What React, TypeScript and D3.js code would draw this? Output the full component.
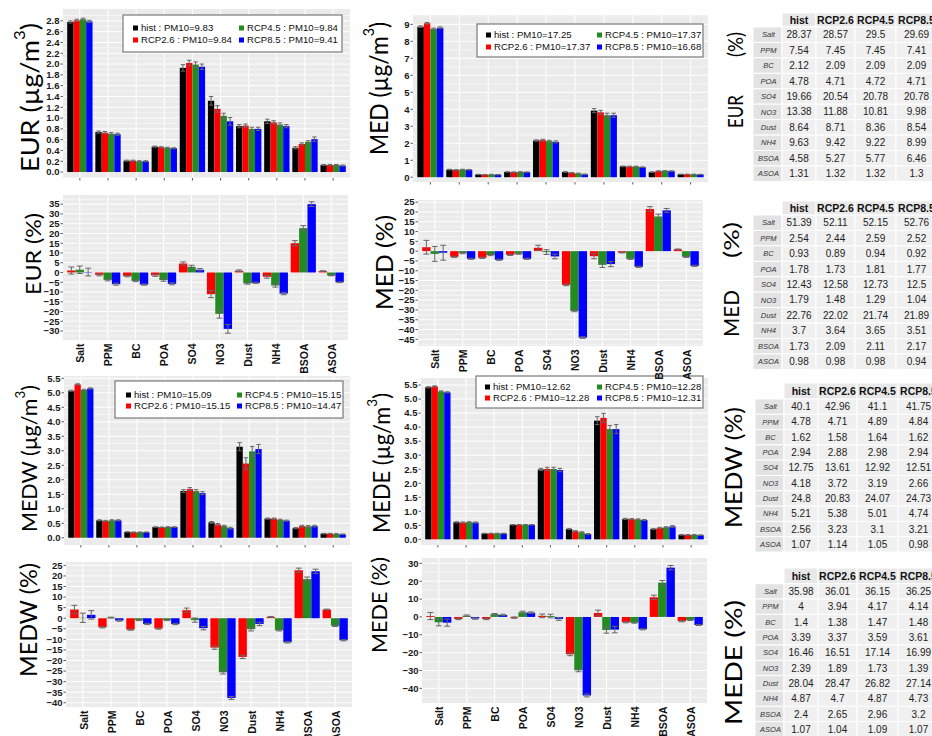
import React from 'react';
import * as d3 from 'd3';

const categories = ['Salt', 'PPM', 'BC', 'POA', 'SO4', 'NO3', 'Dust', 'NH4', 'BSOA', 'ASOA'];
const scenarios = ['hist', 'RCP2.6', 'RCP4.5', 'RCP8.5'];
const colors = ['#000000', '#ff0000', '#228b22', '#0000ff'];

// EUR concentrations (ug/m3) with error bars
const eurHist = [2.78, 0.74, 0.21, 0.47, 1.93, 1.32, 0.85, 0.94, 0.45, 0.13];
const eurR26 = [2.81, 0.73, 0.21, 0.46, 2.02, 1.17, 0.86, 0.92, 0.52, 0.13];
const eurR45 = [2.83, 0.71, 0.20, 0.45, 1.99, 1.04, 0.80, 0.88, 0.56, 0.13];
const eurR85 = [2.79, 0.70, 0.20, 0.44, 1.95, 0.94, 0.80, 0.85, 0.61, 0.12];
const eurHistErr = [0.02, 0.02, 0.01, 0.01, 0.06, 0.08, 0.03, 0.04, 0.02, 0.01];
const eurR26Err = [0.02, 0.02, 0.01, 0.01, 0.05, 0.06, 0.03, 0.03, 0.02, 0.01];
const eurR45Err = [0.02, 0.02, 0.01, 0.01, 0.05, 0.05, 0.03, 0.03, 0.02, 0.01];
const eurR85Err = [0.02, 0.02, 0.01, 0.01, 0.05, 0.07, 0.03, 0.03, 0.04, 0.01];
// EUR change (%)
const eurP26 = [1.0, -1.2, -1.9, -1.5, 4.6, -11.1, 0.9, -2.2, 15.0, 0.7];
const eurP45 = [1.4, -3.8, -4.3, -3.9, 2.9, -21.2, -5.6, -6.7, 22.7, -1.5];
const eurP85 = [0.2, -6.0, -6.2, -5.8, 1.4, -28.9, -5.3, -10.8, 35.0, -5.0];
const eurP26Err = [1.8, 0.5, 0.3, 0.5, 0.8, 1.8, 0.4, 0.7, 1.3, 0.2];
const eurP45Err = [1.9, 0.5, 0.4, 0.6, 0.8, 2.2, 0.4, 0.8, 1.3, 0.2];
const eurP85Err = [2.0, 0.5, 0.3, 0.5, 0.6, 2.2, 0.3, 0.6, 1.2, 0.2];

// MED
const medHist = [8.86, 0.45, 0.16, 0.31, 2.16, 0.31, 3.92, 0.64, 0.30, 0.17];
const medR26 = [9.06, 0.43, 0.15, 0.30, 2.18, 0.26, 3.82, 0.63, 0.36, 0.17];
const medR45 = [8.73, 0.45, 0.16, 0.31, 2.12, 0.22, 3.65, 0.63, 0.37, 0.17];
const medR85 = [8.80, 0.44, 0.15, 0.30, 2.08, 0.17, 3.65, 0.59, 0.36, 0.16];
const medHistErr = [0.05, 0.02, 0.01, 0.01, 0.04, 0.02, 0.12, 0.02, 0.02, 0.01];
const medR26Err = [0.05, 0.02, 0.01, 0.01, 0.05, 0.02, 0.12, 0.02, 0.02, 0.01];
const medR45Err = [0.05, 0.02, 0.01, 0.01, 0.05, 0.02, 0.12, 0.02, 0.02, 0.01];
const medR85Err = [0.05, 0.02, 0.01, 0.01, 0.06, 0.02, 0.12, 0.02, 0.02, 0.01];
const medP26 = [2.0, -2.9, -3.4, -1.9, 1.7, -17.2, -2.6, -0.7, 21.5, 0.9];
const medP45 = [-1.4, -1.0, -2.0, -1.3, -0.5, -30.5, -7.0, -3.9, 17.7, -2.9];
const medP85 = [-0.8, -3.9, -4.4, -3.9, -2.7, -44.1, -6.6, -8.0, 20.8, -7.5];
const medP26Err = [3.5, 0.3, 0.3, 0.3, 1.3, 0.4, 1.3, 0.2, 1.2, 0.2];
const medP45Err = [3.8, 0.3, 0.3, 0.3, 1.2, 0.4, 1.3, 0.3, 1.2, 0.3];
const medP85Err = [3.8, 0.3, 0.3, 0.3, 1.2, 0.4, 1.3, 0.3, 1.0, 0.3];

// MEDW
const medwHist = [5.07, 0.60, 0.20, 0.37, 1.61, 0.53, 3.14, 0.66, 0.33, 0.14];
const medwR26 = [5.29, 0.58, 0.19, 0.36, 1.68, 0.46, 2.56, 0.66, 0.40, 0.14];
const medwR45 = [5.10, 0.60, 0.19, 0.37, 1.61, 0.40, 2.98, 0.62, 0.39, 0.13];
const medwR85 = [5.15, 0.60, 0.19, 0.37, 1.54, 0.33, 3.06, 0.59, 0.40, 0.12];
const medwHistErr = [0.02, 0.02, 0.01, 0.01, 0.05, 0.03, 0.14, 0.02, 0.02, 0.01];
const medwR26Err = [0.02, 0.02, 0.01, 0.01, 0.05, 0.03, 0.20, 0.02, 0.03, 0.01];
const medwR45Err = [0.02, 0.02, 0.01, 0.01, 0.05, 0.03, 0.17, 0.02, 0.03, 0.01];
const medwR85Err = [0.02, 0.02, 0.01, 0.01, 0.05, 0.03, 0.16, 0.02, 0.03, 0.01];
const medwP26 = [4.1, -4.3, -5.4, -4.9, 3.8, -13.9, -18.3, 0.6, 22.7, 4.1];
const medwP45 = [0.2, 0.3, -0.9, -0.9, -0.9, -25.6, -5.2, -5.7, 18.5, -3.6];
const medwP85 = [1.6, -1.1, -2.7, -2.7, -4.7, -37.7, -2.7, -11.4, 22.2, -10.4];
const medwP26Err = [2.0, 0.3, 0.3, 0.3, 1.0, 0.8, 0.8, 0.2, 1.0, 0.2];
const medwP45Err = [2.2, 0.2, 0.2, 0.2, 1.0, 0.8, 0.8, 0.3, 1.0, 0.3];
const medwP85Err = [2.0, 0.3, 0.3, 0.3, 0.8, 0.7, 0.8, 0.3, 1.0, 0.3];

// MEDE
const medeHist = [5.42, 0.61, 0.21, 0.52, 2.49, 0.37, 4.23, 0.73, 0.37, 0.16];
const medeR26 = [5.45, 0.60, 0.21, 0.52, 2.51, 0.29, 4.33, 0.72, 0.41, 0.16];
const medeR45 = [5.27, 0.61, 0.21, 0.52, 2.51, 0.25, 3.93, 0.71, 0.43, 0.16];
const medeR85 = [5.24, 0.60, 0.21, 0.52, 2.47, 0.19, 3.93, 0.69, 0.46, 0.15];
const medeHistErr = [0.02, 0.02, 0.01, 0.01, 0.04, 0.02, 0.14, 0.02, 0.02, 0.01];
const medeR26Err = [0.02, 0.02, 0.01, 0.01, 0.06, 0.02, 0.16, 0.02, 0.02, 0.01];
const medeR45Err = [0.02, 0.02, 0.01, 0.01, 0.06, 0.02, 0.13, 0.02, 0.02, 0.01];
const medeR85Err = [0.02, 0.02, 0.01, 0.01, 0.06, 0.02, 0.16, 0.02, 0.03, 0.01];
const medeP26 = [0.5, -1.1, -1.1, -0.4, 0.6, -20.9, 2.2, -3.0, 11.0, -2.4];
const medeP45 = [-3.0, 0.7, 1.5, 2.6, 0.5, -29.9, -7.3, -3.2, 19.2, -1.7];
const medeP85 = [-3.2, -0.9, 1.1, 2.4, -1.1, -44.0, -7.1, -6.9, 27.6, -4.5];
const medeP26Err = [2.0, 0.4, 0.4, 0.4, 1.0, 0.8, 1.6, 0.3, 1.2, 0.3];
const medeP45Err = [2.0, 0.4, 0.4, 0.6, 1.0, 0.8, 1.8, 0.3, 1.2, 0.3];
const medeP85Err = [2.0, 0.4, 0.4, 0.4, 0.8, 0.8, 1.8, 0.3, 1.2, 0.3];

// legends
const eurLegend = ['hist : PM10=9.83', 'RCP2.6 : PM10=9.84', 'RCP4.5 : PM10=9.84', 'RCP8.5 : PM10=9.41'];
const medLegend = ['hist : PM10=17.25', 'RCP2.6 : PM10=17.37', 'RCP4.5 : PM10=17.37', 'RCP8.5 : PM10=16.68'];
const medwLegend = ['hist : PM10=15.09', 'RCP2.6 : PM10=15.15', 'RCP4.5 : PM10=15.15', 'RCP8.5 : PM10=14.47'];
const medeLegend = ['hist : PM10=12.62', 'RCP2.6 : PM10=12.28', 'RCP4.5 : PM10=12.28', 'RCP8.5 : PM10=12.31'];

// tick values
const eurTicks = [0, 0.2, 0.4, 0.6, 0.8, 1.0, 1.2, 1.4, 1.6, 1.8, 2.0, 2.2, 2.4, 2.6, 2.8];
const medTicks = [0, 1, 2, 3, 4, 5, 6, 7, 8, 9];
const halfTicks = [0, 0.5, 1.0, 1.5, 2.0, 2.5, 3.0, 3.5, 4.0, 4.5, 5.0, 5.5];
const eurPctTicks = [-30, -25, -20, -15, -10, -5, 0, 5, 10, 15, 20, 25, 30, 35];
const medPctTicks = [-45, -40, -35, -30, -25, -20, -15, -10, -5, 0, 5, 10, 15, 20, 25];
const medwPctTicks = [-40, -35, -30, -25, -20, -15, -10, -5, 0, 5, 10, 15, 20, 25];
const medePctTicks = [-40, -30, -20, -10, 0, 10, 20, 30];

// share tables (%)
const eurTabHist = [28.37, 7.54, 2.12, 4.78, 19.66, 13.38, 8.64, 9.63, 4.58, 1.31];
const eurTabR26 = [28.57, 7.45, 2.09, 4.71, 20.54, 11.88, 8.71, 9.42, 5.27, 1.32];
const eurTabR45 = [29.5, 7.45, 2.09, 4.72, 20.78, 10.81, 8.36, 9.22, 5.77, 1.32];
const eurTabR85 = [29.69, 7.41, 2.09, 4.71, 20.78, 9.98, 8.54, 8.99, 6.46, 1.3];
const medTabHist = [51.39, 2.54, 0.93, 1.78, 12.43, 1.79, 22.76, 3.7, 1.73, 0.98];
const medTabR26 = [52.11, 2.44, 0.89, 1.73, 12.58, 1.48, 22.02, 3.64, 2.09, 0.98];
const medTabR45 = [52.15, 2.59, 0.94, 1.81, 12.73, 1.29, 21.74, 3.65, 2.11, 0.98];
const medTabR85 = [52.76, 2.52, 0.92, 1.77, 12.5, 1.04, 21.89, 3.51, 2.17, 0.94];
const medwTabHist = [40.1, 4.78, 1.62, 2.94, 12.75, 4.18, 24.8, 5.21, 2.56, 1.07];
const medwTabR26 = [42.96, 4.71, 1.58, 2.88, 13.61, 3.72, 20.83, 5.38, 3.23, 1.14];
const medwTabR45 = [41.1, 4.89, 1.64, 2.98, 12.92, 3.19, 24.07, 5.01, 3.1, 1.05];
const medwTabR85 = [41.75, 4.84, 1.62, 2.94, 12.51, 2.66, 24.73, 4.74, 3.21, 0.98];
const medeTabHist = [35.98, 4, 1.4, 3.39, 16.46, 2.39, 28.04, 4.87, 2.4, 1.07];
const medeTabR26 = [36.01, 3.94, 1.38, 3.37, 16.51, 1.89, 28.47, 4.7, 2.65, 1.04];
const medeTabR45 = [36.15, 4.17, 1.47, 3.59, 17.14, 1.73, 26.82, 4.87, 2.96, 1.09];
const medeTabR85 = [36.25, 4.14, 1.48, 3.61, 16.99, 1.39, 27.14, 4.73, 3.2, 1.07];

const FONT = '"Liberation Sans", Arial, sans-serif';
const BIG_FONT = 'Lato, "Open Sans", sans-serif';

type Series = { name: string; color: string; values: number[]; errors: number[] };

function conc(vals: number[][], errs: number[][]): Series[] {
  return scenarios.map((s, i) => ({ name: s, color: colors[i], values: vals[i], errors: errs[i] }));
}
function pct(vals: number[][], errs: number[][]): Series[] {
  return scenarios.slice(1).map((s, i) => ({ name: s, color: colors[i + 1], values: vals[i], errors: errs[i] }));
}

interface PanelProps {
  left: number; right: number; top: number; bottom: number;
  domain: [number, number];
  ticks: number[];
  fmt: string;
  series: Series[];
  xLabels?: boolean;
}

function BarPanel(p: PanelProps) {
  const x = d3.scalePoint<string>().domain(categories).range([p.left, p.right]).padding(0.6);
  const step = x.step();
  const inner = d3.scaleBand<string>().domain(p.series.map(s => s.name)).range([-0.45 * step, 0.45 * step]);
  const bw = inner.bandwidth();
  const y = d3.scaleLinear().domain(p.domain).range([p.bottom, p.top]);
  const tStep = p.ticks[1] - p.ticks[0];
  const minor = d3.range(p.ticks[0] - tStep / 2, p.domain[1], tStep)
    .filter(v => v > p.domain[0] && v < p.domain[1]);
  const format = d3.format(p.fmt);
  return (
    <g>
      <rect x={p.left} y={p.top} width={p.right - p.left} height={p.bottom - p.top} fill="#ebebeb" />
      {minor.map(v => (
        <line key={'m' + v} x1={p.left} x2={p.right} y1={y(v)} y2={y(v)} stroke="#fff" strokeWidth={0.5} />
      ))}
      {p.ticks.map(v => (
        <line key={'t' + v} x1={p.left} x2={p.right} y1={y(v)} y2={y(v)} stroke="#fff" strokeWidth={1} />
      ))}
      {categories.map(c => (
        <line key={'v' + c} x1={x(c)} x2={x(c)} y1={p.top} y2={p.bottom} stroke="#fff" strokeWidth={1} />
      ))}
      {p.series.map(s => (
        <g key={s.name}>
          {s.values.map((v, i) => {
            const bx = (x(categories[i]) as number) + (inner(s.name) as number);
            return (
              <rect key={i} x={bx} y={Math.min(y(v), y(0))} width={bw}
                height={Math.abs(y(v) - y(0))} fill={s.color} />
            );
          })}
        </g>
      ))}
      {p.series.map(s => (
        <g key={'e' + s.name} stroke="#666" strokeWidth={1}>
          {s.values.map((v, i) => {
            const cx = (x(categories[i]) as number) + (inner(s.name) as number) + bw / 2;
            const lo = y(v - s.errors[i]);
            const hi = y(v + s.errors[i]);
            const cw = bw * 0.35;
            return (
              <g key={i}>
                <line x1={cx} x2={cx} y1={lo} y2={hi} />
                <line x1={cx - cw} x2={cx + cw} y1={lo} y2={lo} />
                <line x1={cx - cw} x2={cx + cw} y1={hi} y2={hi} />
              </g>
            );
          })}
        </g>
      ))}
      {p.ticks.map(v => (
        <g key={'l' + v}>
          <line x1={p.left - 2.5} x2={p.left} y1={y(v)} y2={y(v)} stroke="#333" strokeWidth={0.8} />
          <text x={p.left - 3.5} y={y(v)} dy="0.35em" textAnchor="end" fontFamily={FONT}
            fontWeight="bold" fontSize={9.5} fill="#1a1a1a">{format(v)}</text>
        </g>
      ))}
      {categories.map(c => (
        <g key={'x' + c}>
          {p.xLabels ? (
            <text transform={`translate(${(x(c) as number) + 1},${p.bottom + 3.5}) rotate(-90)`}
              dy="0.35em" textAnchor="end" fontFamily={FONT} fontWeight="bold" fontSize={10.5}
              fill="#111">{c}</text>
          ) : (
            <line x1={x(c)} x2={x(c)} y1={p.bottom} y2={p.bottom + 2.5} stroke="#333" strokeWidth={0.8} />
          )}
        </g>
      ))}
    </g>
  );
}

interface LegendProps {
  x: number; y: number; w: number; h: number; labels: string[];
  cols: [number, number]; rows: [number, number];
}

function Legend(p: LegendProps) {
  // column 1: hist, RCP2.6 ; column 2: RCP4.5, RCP8.5
  const place = [[0, 0], [0, 1], [1, 0], [1, 1]];
  return (
    <g>
      <rect x={p.x} y={p.y} width={p.w} height={p.h} fill="#fff" stroke="#7a7a7a" strokeWidth={1.2} />
      {p.labels.map((l, i) => {
        const cx = p.x + p.cols[place[i][0]];
        const cy = p.y + p.rows[place[i][1]];
        return (
          <g key={l}>
            <rect x={cx} y={cy - 2.5} width={5} height={5} fill={colors[i]} />
            <text x={cx + 8} y={cy} dy="0.35em" fontFamily={FONT} fontSize={9.6} fill="#111">{l}</text>
          </g>
        );
      })}
    </g>
  );
}

function ConcLabel({ name, x, y0, y1, size }: { name: string; x: number; y0: number; y1: number; size: number }) {
  return (
    <text transform={`translate(${x},${y0}) rotate(-90)`} fontFamily={BIG_FONT} fontSize={size}
      textLength={y0 - y1} lengthAdjust="spacingAndGlyphs" fill="#000">
      {name} (µg/m<tspan dy={-size * 0.55} fontSize={size * 0.62}>3</tspan>
      <tspan dy={size * 0.55} fontSize={size}>)</tspan>
    </text>
  );
}

function PlainLabel({ text, x, y0, y1, size }: { text: string; x: number; y0: number; y1: number; size: number }) {
  return (
    <text transform={`translate(${x},${y0}) rotate(-90)`} fontFamily={BIG_FONT} fontSize={size}
      textLength={y0 - y1} lengthAdjust="spacingAndGlyphs" fill="#000">{text}</text>
  );
}

interface TableProps { top: number; dx: number; rowH: number; headH: number; cols: number[][] }

function ShareTable(p: TableProps) {
  const edges = [753, 782, 816, 855, 896, 937].map(v => v + p.dx);
  const rows = d3.scaleBand<string>().domain(categories)
    .range([p.top + p.headH, p.top + p.headH + p.rowH * categories.length]);
  return (
    <g fontFamily={FONT}>
      {scenarios.map((s, j) => (
        <g key={s}>
          <rect x={edges[j + 1]} y={p.top} width={edges[j + 2] - edges[j + 1]} height={p.headH}
            fill="#e8e8e8" stroke="#fff" strokeWidth={1} />
          <text x={(edges[j + 1] + edges[j + 2]) / 2} y={p.top + p.headH / 2} dy="0.36em"
            textAnchor="middle" fontWeight="bold" fontSize={10.5} fill="#111">{s}</text>
        </g>
      ))}
      {categories.map((c, i) => (
        <g key={c}>
          <rect x={edges[0]} y={rows(c)} width={edges[1] - edges[0]} height={p.rowH}
            fill="#e3e3e3" stroke="#fff" strokeWidth={1} />
          <text x={(edges[0] + edges[1]) / 2 + 1} y={(rows(c) as number) + p.rowH / 2} dy="0.35em"
            textAnchor="middle" fontStyle="italic" fontSize={7.5} fill="#333">{c}</text>
          {p.cols.map((col, j) => (
            <g key={j}>
              <rect x={edges[j + 1]} y={rows(c)} width={edges[j + 2] - edges[j + 1]} height={p.rowH}
                fill="#f0f0f0" stroke="#fff" strokeWidth={1} />
              <text x={(edges[j + 1] + edges[j + 2]) / 2} y={(rows(c) as number) + p.rowH / 2} dy="0.35em"
                textAnchor="middle" fontSize={10} fill="#222">{String(col[i])}</text>
            </g>
          ))}
        </g>
      ))}
    </g>
  );
}

export default function App() {
  return (
    <svg width={932} height={736} style={{ position: 'absolute', left: 0, top: 0, background: '#fff' }}>
      {/* concentration panels */}
      <BarPanel left={63} right={350} top={9} bottom={178} domain={[-0.11, 3.02]} ticks={eurTicks} fmt=".1f"
        series={conc([eurHist, eurR26, eurR45, eurR85], [eurHistErr, eurR26Err, eurR45Err, eurR85Err])} />
      <Legend x={123} y={15} w={219} h={37} labels={eurLegend} cols={[10, 116]} rows={[13, 25]} />
      <ConcLabel name="EUR" x={39} y0={172} y1={23} size={25} />

      <BarPanel left={413} right={708} top={15} bottom={182} domain={[-0.28, 9.55]} ticks={medTicks} fmt="d"
        series={conc([medHist, medR26, medR45, medR85], [medHistErr, medR26Err, medR45Err, medR85Err])} />
      <Legend x={477} y={24} w={226} h={33} labels={medLegend} cols={[9, 120]} rows={[11, 23]} />
      <ConcLabel name="MED" x={388} y0={155} y1={22} size={25} />

      <BarPanel left={64} right={350} top={376} bottom={545} domain={[-0.25, 5.58]} ticks={halfTicks} fmt=".1f"
        series={conc([medwHist, medwR26, medwR45, medwR85], [medwHistErr, medwR26Err, medwR45Err, medwR85Err])} />
      <Legend x={115} y={381} w={228} h={37} labels={medwLegend} cols={[11, 122]} rows={[14, 25]} />
      <ConcLabel name="MEDW" x={37} y0={532} y1={385} size={22} />

      <BarPanel left={421} right={708} top={378} bottom={545} domain={[-0.2, 5.75]} ticks={halfTicks} fmt=".1f"
        series={conc([medeHist, medeR26, medeR45, medeR85], [medeHistErr, medeR26Err, medeR45Err, medeR85Err])} />
      <Legend x={476} y={376} w={227} h={32} labels={medeLegend} cols={[9, 121]} rows={[11, 22]} />
      <ConcLabel name="MEDE" x={390} y0={533} y1={393} size={23} />

      {/* change (%) panels */}
      <BarPanel left={63} right={348} top={195} bottom={340} domain={[-34.6, 39.7]} ticks={eurPctTicks} fmt="d"
        series={pct([eurP26, eurP45, eurP85], [eurP26Err, eurP45Err, eurP85Err])} xLabels />
      <PlainLabel text="EUR (%)" x={41} y0={295} y1={213} size={22} />
      <BarPanel left={418} right={703} top={200} bottom={346} domain={[-48.4, 26.1]} ticks={medPctTicks} fmt="d"
        series={pct([medP26, medP45, medP85], [medP26Err, medP45Err, medP85Err])} xLabels />
      <PlainLabel text="MED (%)" x={393} y0={310} y1={215} size={23} />
      <BarPanel left={66} right={352} top={562} bottom={707} domain={[-42, 26.6]} ticks={medwPctTicks} fmt="d"
        series={pct([medwP26, medwP45, medwP85], [medwP26Err, medwP45Err, medwP85Err])} xLabels />
      <PlainLabel text="MEDW (%)" x={37} y0={677} y1={563} size={23} />
      <BarPanel left={422} right={707} top={558} bottom={703} domain={[-48.2, 33]} ticks={medePctTicks} fmt="d"
        series={pct([medeP26, medeP45, medeP85], [medeP26Err, medeP45Err, medeP85Err])} xLabels />
      <PlainLabel text="MEDE (%)" x={387} y0={653} y1={557} size={21} />

      {/* share tables */}
      <ShareTable top={13} dx={0} rowH={15.44} headH={14} cols={[eurTabHist, eurTabR26, eurTabR45, eurTabR85]} />
      <PlainLabel text="EUR" x={743} y0={128} y1={95} size={22} />
      <PlainLabel text="(%)" x={743} y0={57} y1={32} size={22} />
      <ShareTable top={201} dx={0} rowH={15.44} headH={14} cols={[medTabHist, medTabR26, medTabR45, medTabR85]} />
      <PlainLabel text="MED" x={739} y0={337} y1={290} size={22} />
      <PlainLabel text="(%)" x={739} y0={258} y1={222} size={22} />
      <ShareTable top={383} dx={2} rowH={15.3} headH={16} cols={[medwTabHist, medwTabR26, medwTabR45, medwTabR85]} />
      <PlainLabel text="MEDW (%)" x={742} y0={528} y1={407} size={23} />
      <ShareTable top={568} dx={2} rowH={15.33} headH={15.7} cols={[medeTabHist, medeTabR26, medeTabR45, medeTabR85]} />
      <PlainLabel text="MEDE (%)" x={742} y0={725} y1={600} size={23} />
    </svg>
  );
}
